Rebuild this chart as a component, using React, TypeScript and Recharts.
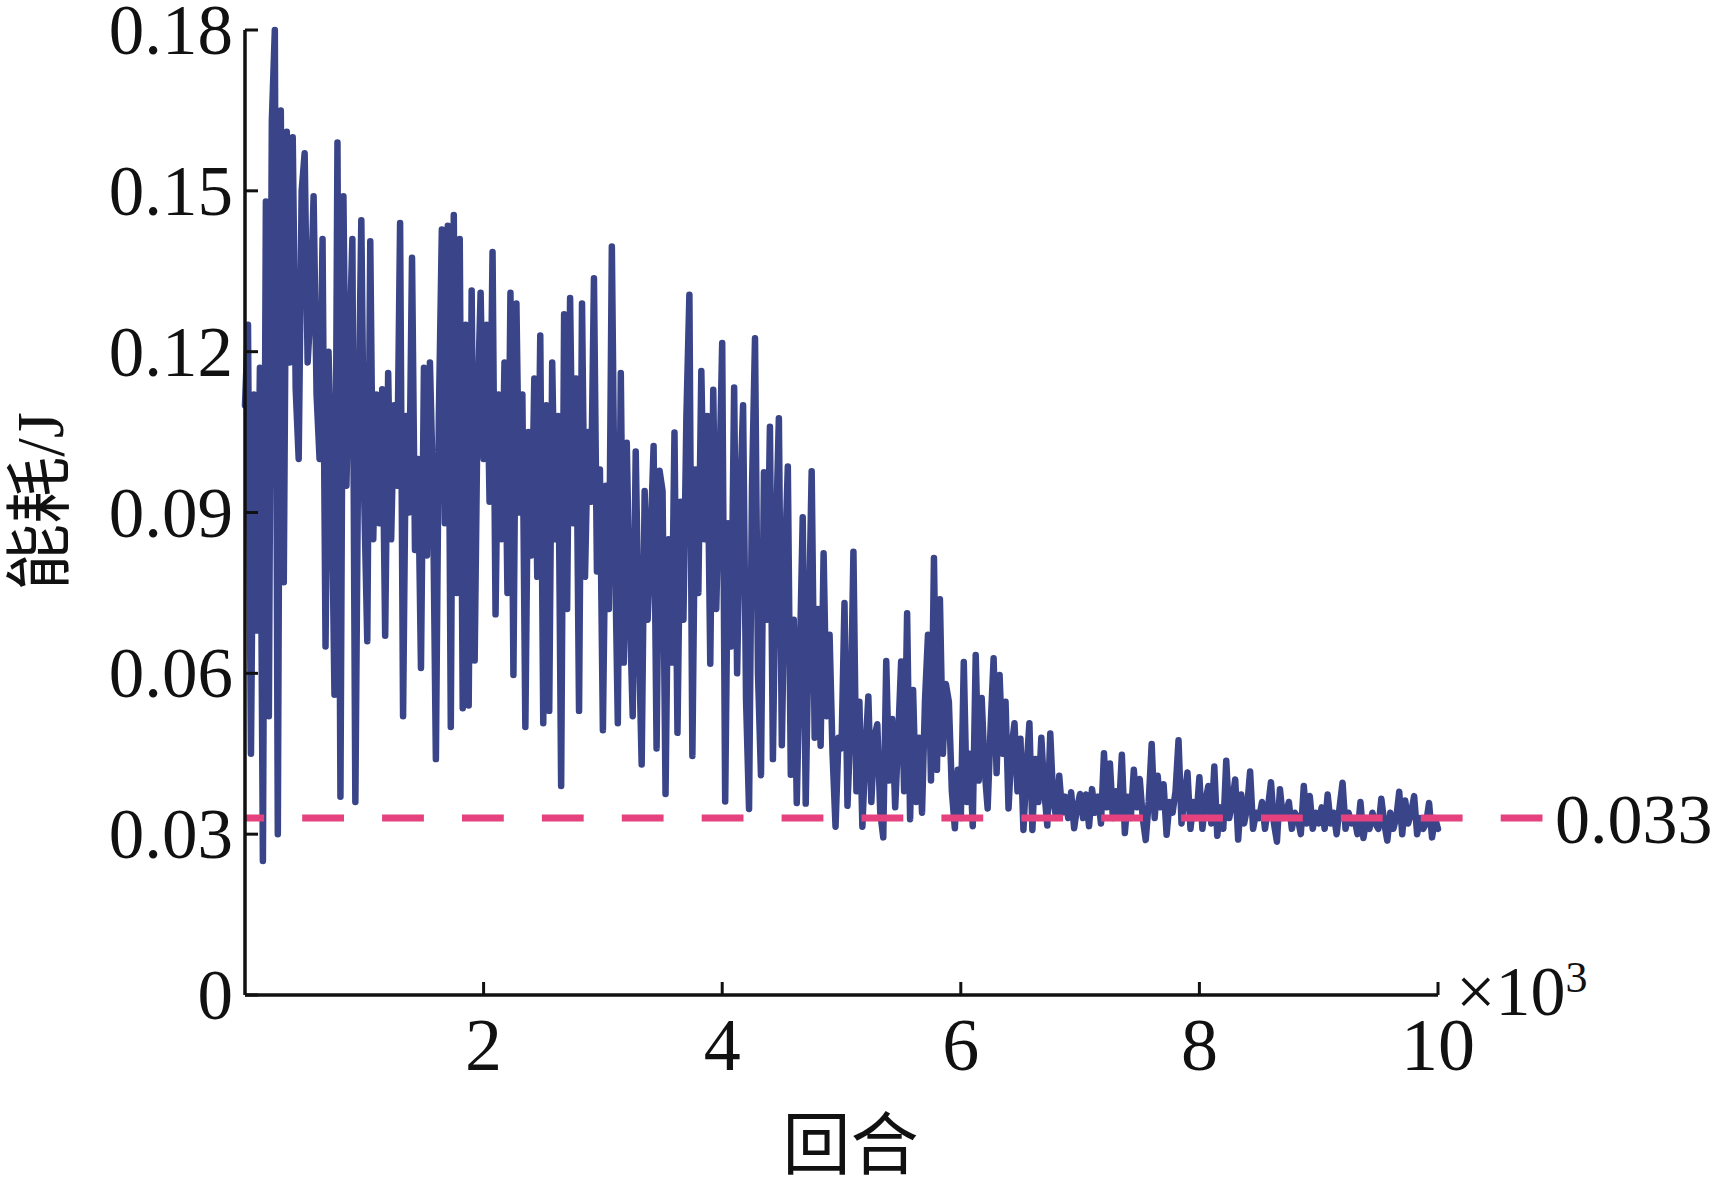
import React from 'react';
import { LineChart, Line, XAxis, YAxis, ReferenceLine } from 'recharts';

// Sample spacing along the x axis (thousands of episodes)
const STEP_K = 0.025;

// Energy consumption (J), 0.5k episodes per row
const energy0to1k = [
  0.110, 0.125, 0.045, 0.112, 0.068, 0.117, 0.025, 0.148, 0.052, 0.163, 0.180, 0.030, 0.165, 0.077, 0.161, 0.118, 0.160, 0.113, 0.100, 0.150,
  0.157, 0.118, 0.128, 0.149, 0.112, 0.100, 0.141, 0.065, 0.120, 0.098, 0.056, 0.159, 0.037, 0.149, 0.095, 0.120, 0.141, 0.036, 0.105, 0.1445,
];
const energy1to2k = [
  0.092, 0.066, 0.1406, 0.085, 0.112, 0.088, 0.113, 0.067, 0.116, 0.085, 0.110, 0.095, 0.144, 0.052, 0.108, 0.090, 0.1375, 0.083, 0.100, 0.061,
  0.117, 0.082, 0.118, 0.095, 0.044, 0.108, 0.1428, 0.088, 0.1435, 0.050, 0.1455, 0.075, 0.141, 0.0535, 0.125, 0.054, 0.1314, 0.0624, 0.110, 0.131,
];
const energy2to3k = [
  0.100, 0.125, 0.092, 0.1386, 0.071, 0.112, 0.085, 0.118, 0.075, 0.131, 0.0597, 0.129, 0.090, 0.112, 0.050, 0.105, 0.082, 0.115, 0.078, 0.123,
  0.0507, 0.110, 0.053, 0.118, 0.085, 0.108, 0.039, 0.127, 0.072, 0.130, 0.088, 0.115, 0.053, 0.129, 0.078, 0.105, 0.092, 0.1337, 0.079, 0.098,
];
const energy3to4k = [
  0.0494, 0.095, 0.072, 0.1396, 0.085, 0.0507, 0.116, 0.062, 0.103, 0.072, 0.052, 0.1014, 0.068, 0.043, 0.094, 0.070, 0.085, 0.1024, 0.046, 0.0978,
  0.094, 0.0375, 0.085, 0.062, 0.1049, 0.0489, 0.092, 0.070, 0.108, 0.1306, 0.0446, 0.098, 0.075, 0.1164, 0.085, 0.108, 0.0618, 0.1129, 0.072, 0.095,
];
const energy4to5k = [
  0.1216, 0.0361, 0.088, 0.065, 0.1133, 0.060, 0.092, 0.110, 0.055, 0.0347, 0.095, 0.1225, 0.060, 0.041, 0.0975, 0.070, 0.106, 0.044, 0.085, 0.1076,
  0.0466, 0.080, 0.0986, 0.0411, 0.070, 0.0358, 0.062, 0.0891, 0.0357, 0.068, 0.0977, 0.048, 0.072, 0.0465, 0.0824, 0.052, 0.0672, 0.045, 0.0314, 0.048,
];
const energy5to6k = [
  0.046, 0.0731, 0.0353, 0.050, 0.0827, 0.038, 0.0547, 0.0314, 0.045, 0.0557, 0.036, 0.048, 0.0505, 0.034, 0.0294, 0.0623, 0.040, 0.0515, 0.035, 0.048,
  0.0622, 0.038, 0.0712, 0.0328, 0.0569, 0.036, 0.048, 0.034, 0.055, 0.0672, 0.040, 0.0815, 0.042, 0.0738, 0.045, 0.058, 0.0547, 0.038, 0.0311, 0.042,
];
const energy6to7k = [
  0.033, 0.0621, 0.036, 0.045, 0.0315, 0.0634, 0.040, 0.0554, 0.042, 0.0348, 0.050, 0.0628, 0.0414, 0.0597, 0.045, 0.0547, 0.0348, 0.046, 0.0507, 0.038,
  0.0478, 0.0308, 0.042, 0.0507, 0.0308, 0.044, 0.036, 0.048, 0.038, 0.0316, 0.0488, 0.036, 0.0332, 0.0409, 0.034, 0.037, 0.033, 0.0378, 0.0311, 0.035,
];
const energy7to8k = [
  0.0375, 0.033, 0.0374, 0.0315, 0.0384, 0.034, 0.037, 0.032, 0.0451, 0.035, 0.0432, 0.033, 0.038, 0.034, 0.0448, 0.0302, 0.037, 0.033, 0.042, 0.035,
  0.0403, 0.033, 0.0289, 0.036, 0.0468, 0.033, 0.0409, 0.035, 0.0393, 0.0299, 0.036, 0.034, 0.038, 0.0475, 0.032, 0.037, 0.0415, 0.031, 0.036, 0.033,
];
const energy8to9k = [
  0.0406, 0.031, 0.036, 0.039, 0.032, 0.0426, 0.0297, 0.035, 0.031, 0.0437, 0.033, 0.036, 0.0402, 0.029, 0.0374, 0.032, 0.035, 0.0417, 0.031, 0.034,
  0.033, 0.036, 0.031, 0.035, 0.0397, 0.032, 0.0286, 0.0384, 0.033, 0.034, 0.036, 0.031, 0.034, 0.033, 0.030, 0.039, 0.032, 0.0371, 0.031, 0.034,
];
const energy9to10k = [
  0.032, 0.035, 0.031, 0.0374, 0.032, 0.034, 0.030, 0.035, 0.0396, 0.031, 0.034, 0.032, 0.033, 0.030, 0.036, 0.0293, 0.033, 0.031, 0.034, 0.032,
  0.031, 0.0366, 0.032, 0.0288, 0.034, 0.031, 0.033, 0.0379, 0.030, 0.0363, 0.032, 0.034, 0.0371, 0.030, 0.033, 0.031, 0.032, 0.0358, 0.0294, 0.033,
  0.031,
];

const xTicks = [2, 4, 6, 8, 10];
const yTicks = [0, 0.03, 0.06, 0.09, 0.12, 0.15, 0.18];
const baselineValue = 0.033;
const baselineLabel = '0.033';
const dashEndX = 10.88;

const energyAll = [
  ...energy0to1k, ...energy1to2k, ...energy2to3k, ...energy3to4k, ...energy4to5k,
  ...energy5to6k, ...energy6to7k, ...energy7to8k, ...energy8to9k, ...energy9to10k,
];
const data = energyAll.map((v, i) => ({ x: i * STEP_K, energy: v }));

const SERIF = "'Liberation Serif', 'Times New Roman', 'Noto Sans CJK SC', serif";
const INK = '#111111';
const BLUE = '#3A4589';
const PINK = '#E5417E';

const XTick = (props: any) => {
  const { x, y, payload } = props;
  return (
    <g>
      <line x1={x} y1={y} x2={x} y2={y - 13} stroke={INK} strokeWidth={3} />
      <text x={x} y={y + 75} textAnchor="middle" fontSize={74} fontFamily={SERIF} fill={INK}>
        {payload.value}
      </text>
    </g>
  );
};

const YTick = (props: any) => {
  const { x, y, payload } = props;
  return (
    <g>
      <line x1={x} y1={y} x2={x + 13} y2={y} stroke={INK} strokeWidth={3} />
      <text x={x - 12} y={y + 24} textAnchor="end" fontSize={71} fontFamily={SERIF} fill={INK}>
        {String(payload.value)}
      </text>
    </g>
  );
};

const XTitle = (props: any) => {
  const vb = props.viewBox;
  return (
    <g>
      <text x={vb.x + vb.width / 2 + 9} y={vb.y + 174} textAnchor="middle" fontSize={68} fontFamily={SERIF} fill={INK}>
        回合
      </text>
      <text x={vb.x + vb.width + 18} y={vb.y + 20} textAnchor="start" fontSize={70} fontFamily={SERIF} fill={INK}>
        ×10<tspan dy={-23} fontSize={44}>3</tspan>
      </text>
    </g>
  );
};

const YTitle = (props: any) => {
  const vb = props.viewBox;
  const cx = vb.x + vb.width - 205;
  const cy = vb.y + vb.height / 2 - 11;
  return (
    <text
      x={cx}
      y={cy}
      transform={`rotate(-90 ${cx} ${cy})`}
      textAnchor="middle"
      dominantBaseline="central"
      fontSize={67}
      fontFamily={SERIF}
      fill={INK}
    >
      能耗/J
    </text>
  );
};

export default function App() {
  return (
    <div style={{ position: 'absolute', left: 0, top: 0, width: 1726, height: 1190, background: '#fff' }}>
      <LineChart width={1726} height={1190} data={data} margin={{ top: 30, right: 288, bottom: 0, left: 0 }}>
        <XAxis
          type="number"
          dataKey="x"
          domain={[0, 10]}
          ticks={xTicks}
          height={195}
          tickSize={0}
          tickMargin={0}
          tickLine={false}
          tick={<XTick />}
          axisLine={{ stroke: INK, strokeWidth: 3.5 }}
          label={{ content: (p: any) => <XTitle {...p} /> }}
          interval={0}
        />
        <YAxis
          type="number"
          domain={[0, 0.18]}
          ticks={yTicks}
          width={245}
          tickSize={0}
          tickMargin={0}
          tickLine={false}
          tick={<YTick />}
          axisLine={{ stroke: INK, strokeWidth: 3.5 }}
          label={{ content: (p: any) => <YTitle {...p} /> }}
          interval={0}
        />
        <Line
          type="linear"
          dataKey="energy"
          stroke={BLUE}
          strokeWidth={6.5}
          strokeLinejoin="round"
          strokeLinecap="round"
          dot={false}
          activeDot={false}
          isAnimationActive={false}
        />
        <ReferenceLine
          segment={[{ x: 0, y: baselineValue }, { x: dashEndX, y: baselineValue }]}
          ifOverflow="visible"
          stroke={PINK}
          strokeWidth={7}
          strokeDasharray="41.8 38.1"
          strokeDashoffset={22.7}
          label={{ value: baselineLabel, position: 'right', offset: 12, fontSize: 70, fontFamily: SERIF, fill: INK }}
        />
      </LineChart>
    </div>
  );
}
